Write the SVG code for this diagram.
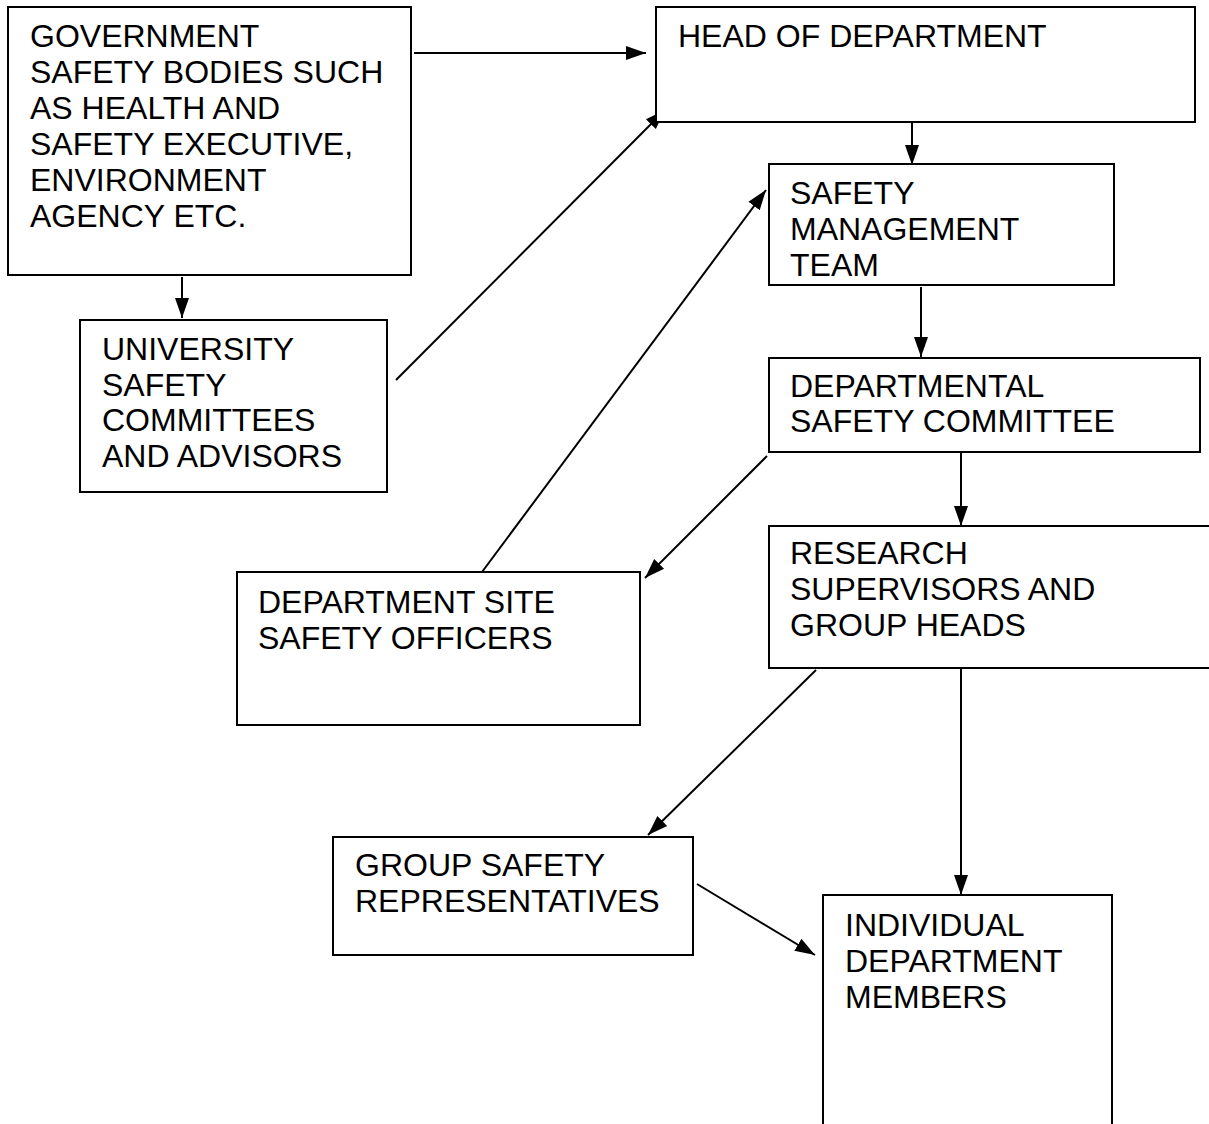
<svg xmlns="http://www.w3.org/2000/svg" width="1209" height="1124" viewBox="0 0 1209 1124">
<style>
.box{fill:#fff;stroke:#000;stroke-width:2}
.t{font-family:"Liberation Sans",Arial,sans-serif;font-size:32px;fill:#000}
.c{stroke:#000;stroke-width:2;fill:none;marker-end:url(#ah)}
</style>
<defs>
<marker id="ah" markerUnits="userSpaceOnUse" markerWidth="22" markerHeight="16" refX="20" refY="8" orient="auto">
<path d="M0,1 L20,8 L0,15 Z" fill="#000"/>
</marker>
</defs>
<rect width="1209" height="1124" fill="#fff"/>
<g id="connectors">
<line class="c" x1="414" y1="53" x2="646" y2="53"/>
<line class="c" x1="396" y1="380" x2="665" y2="110"/>
<line class="c" x1="912" y1="108" x2="912" y2="165"/>
<line class="c" x1="182" y1="277" x2="182" y2="318"/>
<line class="c" x1="921" y1="287" x2="921" y2="357"/>
<line class="c" x1="482" y1="572" x2="766" y2="190"/>
<line class="c" x1="767" y1="456" x2="645" y2="578"/>
<line class="c" x1="961" y1="453" x2="961" y2="526"/>
<line class="c" x1="816" y1="670" x2="648" y2="835"/>
<line class="c" x1="961" y1="668" x2="961" y2="895"/>
<line class="c" x1="697" y1="884" x2="815" y2="955"/>
</g>
<g id="gov">
<rect class="box" x="8" y="7" width="403" height="268"/>
<text class="t" x="30" y="47">GOVERNMENT</text>
<text class="t" x="30" y="83">SAFETY BODIES SUCH</text>
<text class="t" x="30" y="119">AS HEALTH AND</text>
<text class="t" x="30" y="155">SAFETY EXECUTIVE,</text>
<text class="t" x="30" y="191">ENVIRONMENT</text>
<text class="t" x="30" y="227">AGENCY ETC.</text>
</g>
<g id="head">
<rect class="box" x="656" y="7" width="539" height="115"/>
<text class="t" x="678" y="47">HEAD OF DEPARTMENT</text>
</g>
<g id="smt">
<rect class="box" x="769" y="164" width="345" height="121"/>
<text class="t" x="790" y="204">SAFETY</text>
<text class="t" x="790" y="240">MANAGEMENT</text>
<text class="t" x="790" y="276">TEAM</text>
</g>
<g id="univ">
<rect class="box" x="80" y="320" width="307" height="172"/>
<text class="t" x="102" y="360">UNIVERSITY</text>
<text class="t" x="102" y="396">SAFETY</text>
<text class="t" x="102" y="431">COMMITTEES</text>
<text class="t" x="102" y="467">AND ADVISORS</text>
</g>
<g id="dsc">
<rect class="box" x="769" y="358" width="431" height="94"/>
<text class="t" x="790" y="397">DEPARTMENTAL</text>
<text class="t" x="790" y="432">SAFETY COMMITTEE</text>
</g>
<g id="research">
<rect class="box" x="769" y="526" width="445" height="142"/>
<text class="t" x="790" y="564">RESEARCH</text>
<text class="t" x="790" y="600">SUPERVISORS AND</text>
<text class="t" x="790" y="636">GROUP HEADS</text>
</g>
<g id="dsso">
<rect class="box" x="237" y="572" width="403" height="153"/>
<text class="t" x="258" y="613">DEPARTMENT SITE</text>
<text class="t" x="258" y="649">SAFETY OFFICERS</text>
</g>
<g id="gsr">
<rect class="box" x="333" y="837" width="360" height="118"/>
<text class="t" x="355" y="876">GROUP SAFETY</text>
<text class="t" x="355" y="912">REPRESENTATIVES</text>
</g>
<g id="indiv">
<path class="box" d="M823,1126 V895 H1112 V1126"/>
<text class="t" x="845" y="936">INDIVIDUAL</text>
<text class="t" x="845" y="972">DEPARTMENT</text>
<text class="t" x="845" y="1008">MEMBERS</text>
</g>
</svg>
